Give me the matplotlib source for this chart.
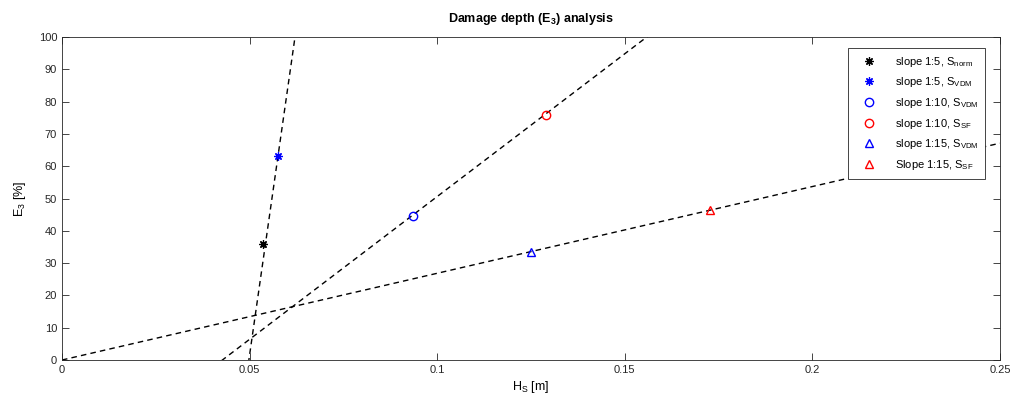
import matplotlib.pyplot as plt
import numpy as np

plt.rcParams['font.family'] = ['Liberation Sans', 'DejaVu Sans']
plt.rcParams['mathtext.default'] = 'regular'

# measured points (Hs [m], E3 [%])
s5_norm_x = [0.0536]
s5_norm_y = [36.0]
s5_vdm_x = [0.0575]
s5_vdm_y = [63.3]
s10_vdm_x = [0.0935]
s10_vdm_y = [44.6]
s10_sf_x = [0.1290]
s10_sf_y = [76.0]
s15_vdm_x = [0.1250]
s15_vdm_y = [33.5]
s15_sf_x = [0.1727]
s15_sf_y = [46.4]

# linear fits E3 = a*Hs + b
fit_a = [8130.0, 884.0, 268.5]
fit_b = [-405.0, -37.8, 0.0]
x_fit = np.array([0.0, 0.25])

fig = plt.figure(figsize=(10.11, 4.01), dpi=100)
ax = fig.add_axes([0.0613, 0.1022, 0.9277, 0.8055])

for a, b in zip(fit_a, fit_b):
    ax.plot(x_fit, a*x_fit + b, color='k', lw=1, dashes=(4, 3))

ast = (8, 2, 0)
ax.plot(s5_norm_x, s5_norm_y, ls='none', marker=ast, color='k', ms=6, mew=0.9, label='slope 1:5, S$_{norm}$')
ax.plot(s5_vdm_x, s5_vdm_y, ls='none', marker=ast, color='b', ms=6, mew=0.9, label='slope 1:5, S$_{VDM}$')
ax.plot(s10_vdm_x, s10_vdm_y, ls='none', marker='o', mfc='none', mec='b', ms=6, mew=1, label='slope 1:10, S$_{VDM}$')
ax.plot(s10_sf_x, s10_sf_y, ls='none', marker='o', mfc='none', mec='r', ms=6, mew=1, label='slope 1:10, S$_{SF}$')
ax.plot(s15_vdm_x, s15_vdm_y, ls='none', marker='^', mfc='none', mec='b', ms=6, mew=1, label='slope 1:15, S$_{VDM}$')
ax.plot(s15_sf_x, s15_sf_y, ls='none', marker='^', mfc='none', mec='r', ms=6, mew=1, label='Slope 1:15, S$_{SF}$')

ax.set_xlim(0, 0.25)
ax.set_ylim(0, 100)
ax.set_xticks([0, 0.05, 0.1, 0.15, 0.2, 0.25])
ax.set_xticklabels(['0', '0.05', '0.1', '0.15', '0.2', '0.25'])
ax.set_yticks(np.arange(0, 101, 10))
ax.tick_params(direction='in', top=True, right=True, labelsize=8, colors='#262626', length=5, width=0.6)
for sp in ax.spines.values():
    sp.set_color('#262626')
    sp.set_linewidth(0.6)

ax.set_title('Damage depth (E$_3$) analysis', fontsize=9, fontweight='bold', pad=11)
ax.set_xlabel('H$_S$ [m]', fontsize=9, labelpad=3)
ax.set_ylabel('E$_3$ [%]', fontsize=9, labelpad=8)

leg = ax.legend(loc='upper right', bbox_to_anchor=(0.984, 0.966), borderaxespad=0, fontsize=8,
                fancybox=False, edgecolor='#262626', framealpha=1, labelspacing=0.6,
                handlelength=2.6, handletextpad=1.0, borderpad=0.6)
leg.get_frame().set_linewidth(0.6)

fig.savefig('out.png', dpi=100)
